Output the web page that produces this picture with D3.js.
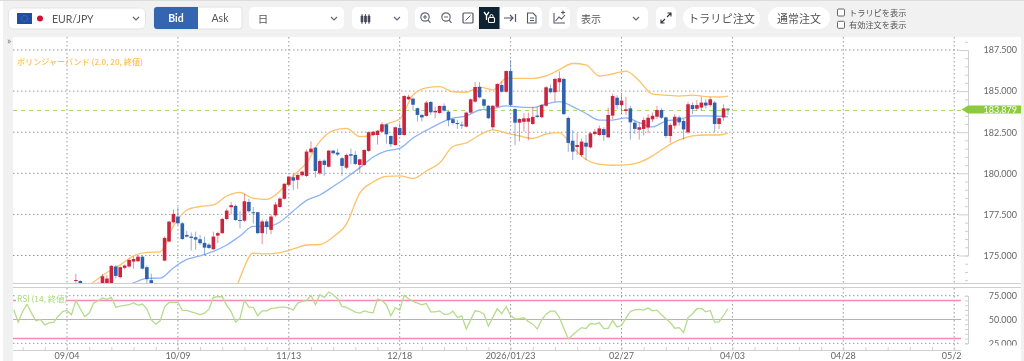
<!DOCTYPE html>
<html>
<head>
<meta charset="utf-8">
<script src="https://cdn.jsdelivr.net/npm/d3@7"></script>
<style>
  html, body { margin: 0; padding: 0; background: #fff; overflow: hidden; }
  svg { filter: blur(0.35px); }
  text { font-family: Lato, "Noto Sans CJK JP", sans-serif; }
  .jp { font-family: "Noto Sans CJK JP", sans-serif; }
</style>
</head>
<body>
<div id="chart"></div>
<script>
// Candles, bar 2 is the first one, 09/04 is bar 0
const firstBar = 2;
const opens = [173.45,173.45,172.9,172.7,172.8,172.9,173.2,173.3,173.3,174.33,173.68,174.25,174.33,174.63,174.65,174.93,174.29,173.5,173.2,172.9,
  174.69,175.85,177.02,177.37,176.96,176.25,176.15,176.11,175.99,175.77,175.66,175.38,176.21,176.36,177.22,177.94,178.02,177.16,177.12,178.26,
  177.63,177.63,176.36,177.07,176.56,177.44,177.95,178.45,179.3,179.76,179.6,179.88,179.84,181.28,181.56,180.0,180.77,180.4,181.38,181.26,
  180.92,180.34,181.16,181.12,180.51,180.51,181.36,182.33,182.33,182.53,182.98,182.27,181.72,182.76,182.33,184.5,184.54,183.96,183.55,183.49,
  184.34,183.71,183.67,184.1,183.75,183.29,183.06,182.96,182.84,183.69,184.36,185.25,184.5,184.11,182.8,184.05,185.37,184.96,186.22,183.91,
  183.08,183.13,183.14,183.0,183.51,183.41,184.11,185.17,184.93,185.54,185.74,183.37,181.98,181.6,181.11,181.86,181.58,182.39,182.33,182.69,
  182.19,183.51,184.6,184.15,183.79,183.95,183.08,182.65,182.7,182.78,183.28,183.44,183.85,183.4,182.27,182.9,183.4,183.18,182.49,184.15,
  183.93,184.0,184.3,184.15,184.3,183.0,183.4,183.93];
const highs = [173.88,173.5,173.1,173.0,173.1,173.4,173.88,173.82,174.42,174.42,174.33,174.45,174.8,174.95,175.0,175.0,174.4,173.9,173.3,173.2,
  176.15,177.1,177.8,177.95,177.05,176.5,176.4,176.45,176.25,176.15,175.75,176.45,176.45,177.3,177.85,178.25,178.1,177.7,178.75,178.45,
  177.95,177.65,177.2,177.2,177.5,178.25,178.55,179.4,179.85,180.0,179.95,180.15,181.45,181.95,181.6,180.85,180.85,181.42,181.42,181.5,
  181.0,181.2,181.5,181.35,180.9,181.45,182.55,182.58,182.62,183.1,183.02,182.3,182.85,183.05,184.75,184.78,184.6,184.0,183.6,184.4,
  184.4,184.05,184.12,184.25,183.8,183.35,183.25,183.15,183.75,184.55,185.55,185.55,184.55,184.15,184.15,185.5,185.6,186.25,186.9,183.95,
  183.35,183.65,183.69,184.05,184.05,184.2,185.3,185.4,185.8,186.2,185.8,183.45,182.63,182.45,182.1,182.33,182.5,182.7,182.9,182.8,
  184.0,184.85,184.75,184.8,184.65,184.1,183.2,183.1,183.4,183.6,183.7,184.1,183.95,183.45,183.05,183.6,183.5,183.3,184.35,184.3,
  184.45,184.65,184.5,184.65,184.4,183.4,184.2,183.95];
const lows = [173.27,172.6,172.5,172.4,172.5,172.7,173.1,173.2,173.2,173.6,173.6,174.15,174.25,174.2,174.6,174.15,173.3,173.0,172.7,172.7,
  174.65,175.8,176.95,176.85,175.95,176.1,175.3,175.35,175.65,175.0,175.4,175.35,175.75,176.3,177.15,177.5,177.1,176.65,177.05,177.6,
  176.95,176.3,175.69,176.3,176.3,177.35,177.9,178.4,179.25,178.97,179.05,179.8,179.78,181.2,179.75,179.9,179.85,180.35,181.15,181.05,
  179.85,180.25,180.55,180.5,180.0,180.45,181.3,182.25,181.75,182.48,181.8,181.6,181.68,182.3,182.28,184.45,183.85,183.15,183.15,183.45,
  183.55,183.35,183.6,183.75,182.85,182.95,182.7,182.7,182.8,183.65,184.3,184.55,183.95,183.3,182.65,184.0,184.9,184.9,184.05,181.7,
  181.95,182.53,182.0,182.95,183.35,183.35,184.05,184.85,184.35,184.95,183.55,181.3,180.81,181.1,181.0,180.81,181.5,182.3,182.25,181.98,
  182.15,183.3,183.9,183.6,183.55,182.05,182.4,182.05,182.3,182.45,183.1,183.3,183.3,182.15,181.86,182.7,182.9,182.05,182.4,183.6,
  183.8,183.8,183.95,184.05,182.5,182.7,183.2,183.55];
const closes = [173.51,172.9,172.7,172.8,172.9,173.2,173.74,173.6,174.37,173.76,174.29,174.39,174.73,174.79,174.93,174.2,173.56,173.2,172.9,173.1,
  176.07,177.06,177.53,176.96,176.0,176.15,176.07,175.97,175.75,175.48,175.46,176.15,176.36,177.22,177.73,178.06,177.16,177.1,178.3,177.69,
  177.6,176.36,177.07,176.73,177.37,178.1,178.46,179.36,179.8,179.55,179.9,180.1,181.32,181.5,180.14,180.75,180.51,181.38,181.22,181.14,
  180.45,181.12,181.07,180.57,180.85,181.42,182.5,182.53,182.59,182.98,182.37,181.77,182.8,182.33,184.7,184.66,184.17,183.55,183.4,184.3,
  183.71,183.8,184.1,183.81,183.23,183.06,183.0,182.9,183.69,184.5,185.25,184.62,184.11,183.35,184.11,185.43,184.96,186.22,184.16,183.08,
  183.3,183.34,183.35,183.43,183.43,184.16,185.23,184.93,185.74,185.78,183.6,181.85,181.32,181.72,181.93,181.62,182.43,182.53,182.73,182.33,
  183.55,184.7,184.15,184.42,183.89,183.1,182.7,182.8,183.24,183.38,183.5,183.85,183.38,182.27,182.94,183.44,183.1,182.67,184.2,183.91,
  184.15,184.3,184.12,184.5,183.0,183.35,183.95,183.879];

// Bollinger bands, read every third bar
const bandBars = d3.range(-12, 148, 3).concat(149);
const bandUpper = [173.33,172.9,172.6,172.5,172.6,172.8,173.39,173.97,174.43,174.98,175.19,175.22,176.8,177.77,177.98,178.08,178.62,178.84,178.47,178.41,
  178.93,179.84,180.63,181.94,182.59,182.73,182.23,182.33,182.98,183.3,184.76,185.19,185.27,184.96,184.93,185.25,185.07,185.77,185.78,185.77,
  185.92,186.31,186.68,186.59,185.92,186.04,186.22,185.62,184.82,184.76,184.7,184.76,184.67,184.64,184.7];
const middleStart = 8; // index into bandBars
const bandMiddle = [172.9,173.33,173.61,173.62,174.25,174.76,174.98,175.25,175.64,176.19,176.77,176.77,177.04,177.71,178.35,178.68,179.2,179.75,180.33,180.99,
  181.36,181.52,182.15,182.61,183.04,183.35,183.49,183.85,183.94,184.1,184.03,184.0,184.22,184.36,184.06,183.64,183.24,183.24,183.37,183.09,
  182.82,183.18,183.27,183.49,183.49,183.47,183.44];
const lowerStart = 15;
const bandLower = [170.5,171.1,173.64,175.14,175.1,175.18,175.4,175.64,175.67,176.13,176.92,178.8,179.47,179.81,179.84,179.69,180.14,180.63,181.63,181.85,
  182.33,182.64,182.45,182.27,182.13,182.39,182.47,181.6,180.84,180.54,180.49,180.51,180.66,181.06,181.6,182.03,182.27,182.33,182.33,182.44];

// RSI per bar, starts at the left edge of the pane
const rsiStart = -12;
const rsiValues = [60.2,47.2,58.4,66.2,56.7,48.6,50,44.4,46.5,47.2,53.2,58.4,59.5,54.9,70,61.3,53.2,56.7,67.2,69.7,
  72.5,71.1,73.2,63,64.1,64.8,65.5,67.6,64.8,66.2,61.3,49.6,45.1,48.6,63.4,67.9,67.9,67.9,59.5,59.5,
  58.1,56.7,54.9,56.7,60.9,73.2,73.9,73.9,64.8,58.4,47.2,51.4,70,63,62.7,53.9,59.1,59.1,61.6,62,
  63,63,62.3,59.8,67.2,69,69.7,75.3,65.5,76,73.2,78.9,76,71.8,63.7,62.7,60.2,57.7,56.7,59.1,57.7,
  57,71.5,70,65.5,53.9,62.3,59.8,75.3,71.8,69,67.2,65.5,66.9,58.1,58.1,59.1,55.3,55.6,58.8,52.1,
  53.9,40.1,49.6,59.1,58.4,55.6,43,52.5,61.3,56,63.4,54.2,50.7,51,51.8,47.9,45.1,40.1,49.6,55.6,
  58.8,58.8,52.1,40.8,29.6,33.8,38,41.5,40.5,45.8,45.1,46.5,40.5,40.8,48.9,42.2,43.7,51.4,58.4,60.2,
  60.6,59.8,62,59.1,59.8,54.9,50.7,46.8,40.8,41.5,36.3,52.1,56,61.3,61.6,58.1,59.5,47.2,47.5,54.2,61.3];

// Axes
const priceTicks = [175, 177.5, 180, 182.5, 185, 187.5];
const rsiTicks = [25, 50, 75];
const rsiBounds = [30, 70];
const lastPrice = 183.879;
const dateBars = [0, 25, 50, 75, 100, 125, 150, 175, 200];
const dateLabels = ['09/04', '10/09', '11/13', '12/18', '2026/01/23', '02/27', '04/03', '04/28', '05/2'];

const width = 1024, height = 361;
const left = 13, right = 961, axisX = 968;

const svg = d3.select('#chart').append('svg')
  .attr('width', width).attr('height', height)
  .style('display', 'block');

const x = d3.scaleLinear().domain([0, 25]).range([67, 177.9]);
const y = d3.scaleLinear().domain([175, 187.5]).range([255.5, 50]);
const yRsi = d3.scaleLinear().domain([25, 75]).range([343.3, 295.7]);

// Page background
svg.append('rect').attr('x', 3).attr('width', 1021).attr('height', 37).attr('fill', '#f1f1f1');
svg.append('rect').attr('x', 3).attr('width', 10).attr('height', height).attr('fill', '#f1f1f1');
svg.append('rect').attr('x', 1021).attr('width', 3).attr('height', height).attr('fill', '#f1f1f1');
svg.append('line').attr('x1', 0).attr('x2', width).attr('y1', 0.5).attr('y2', 0.5).attr('stroke', '#dcdcdc');

const defs = svg.append('defs');
defs.append('clipPath').attr('id', 'price-clip').append('rect')
  .attr('x', left).attr('y', 37).attr('width', right - left).attr('height', 246);

// Grid
const gridColor = '#9a9a9a';
const grid = svg.append('g').attr('stroke', gridColor).attr('stroke-dasharray', '1.5 2.5').attr('fill', 'none');
grid.selectAll('.gx1').data(dateBars).join('line')
  .attr('x1', d => x(d)).attr('x2', d => x(d)).attr('y1', 37).attr('y2', 283);
grid.selectAll('.gx2').data(dateBars).join('line')
  .attr('x1', d => x(d)).attr('x2', d => x(d)).attr('y1', 288).attr('y2', 350);
grid.selectAll('.gy').data(priceTicks).join('line')
  .attr('x1', left).attr('x2', right).attr('y1', d => y(d)).attr('y2', d => y(d));
grid.selectAll('.gr').data([75, 25]).join('line')
  .attr('x1', left).attr('x2', right).attr('y1', d => yRsi(d)).attr('y2', d => yRsi(d));

// Last price line
svg.append('line')
  .attr('x1', left).attr('x2', right).attr('y1', Math.round(y(lastPrice)) + 0.5).attr('y2', Math.round(y(lastPrice)) + 0.5)
  .attr('stroke', '#a6dc76').attr('stroke-dasharray', '4 4');

// Bollinger bands
const bandLine = d3.line().x(d => x(d[0])).y(d => y(d[1])).curve(d3.curveMonotoneX);
const price = svg.append('g').attr('clip-path', 'url(#price-clip)');
const bandSeries = [
  { values: bandUpper, start: 0, color: '#fdc26a' },
  { values: bandMiddle, start: middleStart, color: '#8cb4f5' },
  { values: bandLower, start: lowerStart, color: '#fdc26a' }
];
price.selectAll('.band').data(bandSeries).join('path')
  .attr('fill', 'none')
  .attr('stroke', d => d.color)
  .attr('stroke-width', 1.3)
  .attr('d', d => bandLine(d.values.map((v, i) => [bandBars[d.start + i], v])));

// Candles
const candles = opens.map((o, i) => ({ bar: firstBar + i, o, h: highs[i], l: lows[i], c: closes[i] }));
const candleColor = d => d.c >= d.o ? '#c9253f' : '#2f62ae';
price.selectAll('.wick').data(candles).join('line')
  .attr('x1', d => x(d.bar)).attr('x2', d => x(d.bar))
  .attr('y1', d => y(d.h)).attr('y2', d => y(d.l))
  .attr('stroke', candleColor).attr('stroke-opacity', 0.5);
price.selectAll('.body').data(candles).join('rect')
  .attr('x', d => x(d.bar) - 1.8).attr('width', 3.6)
  .attr('y', d => y(Math.max(d.o, d.c)))
  .attr('height', d => Math.max(1, Math.abs(y(d.o) - y(d.c))))
  .attr('fill', candleColor);

// Pane separators and axis lines
const sep = svg.append('g').attr('stroke', '#cfcfcf');
sep.append('line').attr('x1', left).attr('x2', 1021).attr('y1', 283.5).attr('y2', 283.5);
sep.append('line').attr('x1', left).attr('x2', 1021).attr('y1', 287.5).attr('y2', 287.5);
sep.append('line').attr('x1', left).attr('x2', right).attr('y1', 350.5).attr('y2', 350.5);

// Price axis
const priceAxisG = svg.append('g').attr('transform', `translate(${axisX},0)`);
priceAxisG.call(d3.axisLeft(y).tickValues(d3.range(173.5, 188.5, 0.5)).tickSize(3).tickFormat(''));
priceAxisG.selectAll('.tick').filter(d => d % 2.5 === 0).select('line').attr('x2', -9);
const priceLabels = svg.append('g').attr('transform', `translate(${axisX},0)`);
priceLabels.call(d3.axisRight(y).tickValues(priceTicks).tickSize(0).tickFormat(d3.format('.3f')));
priceLabels.select('.domain').remove();
priceLabels.selectAll('text').attr('x', 49).attr('text-anchor', 'end').attr('font-size', 9).attr('fill', '#666').attr('font-family', null);
priceAxisG.select('.domain').attr('stroke', '#cfcfcf');
priceAxisG.selectAll('line').attr('stroke', '#cfcfcf');

// Last price tag
svg.append('path')
  .attr('d', `M961.5,${y(lastPrice)}L968,${y(lastPrice) - 4}H1021V${y(lastPrice) + 4}H968Z`)
  .attr('fill', '#8ccb3c');
svg.append('text').attr('x', 1017).attr('y', y(lastPrice) + 3.2)
  .attr('text-anchor', 'end').attr('font-size', 9).attr('fill', '#fff').text(d3.format('.3f')(lastPrice));

// RSI pane
svg.append('line')
  .attr('x1', left).attr('x2', right).attr('y1', yRsi(50)).attr('y2', yRsi(50))
  .attr('stroke', '#b5b5b5');
svg.selectAll('.bound').data(rsiBounds).join('line')
  .attr('x1', left).attr('x2', right).attr('y1', d => yRsi(d)).attr('y2', d => yRsi(d))
  .attr('stroke', '#ff86bb').attr('stroke-width', 1.5);
svg.append('path')
  .attr('fill', 'none').attr('stroke', '#b4dc8c').attr('stroke-width', 1.3)
  .attr('d', d3.line().x((d, i) => x(rsiStart + i)).y(d => yRsi(d))(rsiValues));

const rsiAxisG = svg.append('g').attr('transform', `translate(${axisX},0)`);
rsiAxisG.call(d3.axisLeft(yRsi).tickValues(d3.range(25, 80, 5)).tickSize(3).tickFormat(''));
rsiAxisG.select('.domain').attr('stroke', '#cfcfcf');
rsiAxisG.selectAll('line').attr('stroke', '#cfcfcf');
const rsiLabels = svg.append('g').attr('transform', `translate(${axisX},0)`);
rsiLabels.call(d3.axisRight(yRsi).tickValues(rsiTicks).tickSize(0).tickFormat(d3.format('.3f')));
rsiLabels.select('.domain').remove();
rsiLabels.selectAll('text').attr('x', 49).attr('text-anchor', 'end').attr('font-size', 9).attr('fill', '#666').attr('font-family', null);
svg.append('rect').attr('x', axisX + 1).attr('y', 345.5).attr('width', 52).attr('height', 10).attr('fill', '#fff');

// Date axis
const dateAxisG = svg.append('g').attr('transform', 'translate(0,350)');
dateAxisG.call(d3.axisTop(x).tickValues(d3.range(-10, 201, 5)).tickSize(3).tickFormat(''));
dateAxisG.select('.domain').remove();
dateAxisG.selectAll('line').attr('stroke', '#cfcfcf');
svg.selectAll('.date').data(dateLabels).join('text')
  .attr('x', (d, i) => d === '05/2' ? x(dateBars[i]) - 2.5 : x(dateBars[i]))
  .attr('y', 359)
  .attr('text-anchor', 'middle').attr('font-size', 9).attr('fill', '#666')
  .text(d => d);

// Indicator legends
svg.append('text').attr('class', 'jp').attr('x', 17).attr('y', 64.5)
  .attr('font-size', 8.1).attr('font-weight', 500).attr('fill', '#fdbf55')
  .text('ボリンジャーバンド (2.0, 20, 終値)');
svg.append('rect').attr('x', 16).attr('y', 293).attr('width', 50).attr('height', 11).attr('fill', '#fff');
svg.append('text').attr('class', 'jp').attr('x', 17).attr('y', 301.5)
  .attr('font-size', 8.4).attr('fill', '#a8d97a')
  .text('RSI (14, 終値)');
svg.append('text').attr('x', 7).attr('y', 43.5).attr('font-size', 10).attr('fill', '#777').text('»');

// Toolbar
const bar = svg.append('g');
const pills = [
  [8, 8, 138, 21], [249, 7, 95, 22], [352, 7, 56, 22], [415, 7, 63, 22], [500, 7, 42, 22],
  [549, 7, 21, 22], [577, 7, 71, 22], [656, 7, 20, 22]
];
bar.selectAll('.pill').data(pills).join('rect')
  .attr('x', d => d[0]).attr('y', d => d[1]).attr('width', d => d[2]).attr('height', d => d[3])
  .attr('rx', 5).attr('fill', '#fff');
bar.append('rect').attr('x', 8.5).attr('y', 8).attr('width', 137).attr('height', 21).attr('rx', 5)
  .attr('fill', 'none').attr('stroke', '#e4e4e4');

// Round order buttons
bar.append('rect').attr('x', 683).attr('y', 7).attr('width', 77).attr('height', 22).attr('rx', 11).attr('fill', '#fff');
bar.append('rect').attr('x', 768).attr('y', 7).attr('width', 62).attr('height', 22).attr('rx', 11).attr('fill', '#fff');

// Pair selector
bar.append('rect').attr('x', 17).attr('y', 13).attr('width', 15).attr('height', 11).attr('fill', '#1f4ea6');
bar.append('circle').attr('cx', 24.5).attr('cy', 18.5).attr('r', 3).attr('fill', 'none').attr('stroke', '#8a9a7a').attr('stroke-width', 0.6).attr('stroke-dasharray', '1 1');
bar.append('circle').attr('cx', 40).attr('cy', 18.5).attr('r', 3).attr('fill', '#cf1233');
bar.append('text').attr('x', 52).attr('y', 22.5).attr('font-size', 10.5).attr('fill', '#555').text('EUR/JPY');

// Bid / Ask
bar.append('rect').attr('x', 154).attr('y', 7).attr('width', 88).attr('height', 22).attr('rx', 3).attr('fill', '#fff').attr('stroke', '#e2e2e2');
bar.append('path').attr('d', 'M198,7H157a3,3 0 0 0 -3,3V26a3,3 0 0 0 3,3H198Z').attr('fill', '#3465b0');
bar.append('text').attr('x', 176).attr('y', 22).attr('text-anchor', 'middle').attr('font-size', 10.5).attr('font-weight', 700).attr('fill', '#fff').text('Bid');
bar.append('text').attr('x', 220).attr('y', 22).attr('text-anchor', 'middle').attr('font-size', 10.5).attr('fill', '#555').text('Ask');

// Dropdown labels and chevrons
bar.append('text').attr('class', 'jp').attr('x', 263).attr('y', 22.5).attr('text-anchor', 'middle').attr('font-size', 10.5).attr('fill', '#555').text('日');
bar.append('text').attr('class', 'jp').attr('x', 591).attr('y', 22.5).attr('text-anchor', 'middle').attr('font-size', 10).attr('fill', '#555').text('表示');
bar.selectAll('.chev').data([136, 334, 397, 636]).join('path')
  .attr('d', d => `M${d - 3},17L${d},20L${d + 3},17`)
  .attr('fill', 'none').attr('stroke', '#667').attr('stroke-width', 1.2);

// Candle type icon
bar.selectAll('.ci').data([362, 365.5, 369]).join('path')
  .attr('d', d => `M${d},14V24M${d - 0.9},16H${d + 0.9}V22H${d - 0.9}Z`)
  .attr('stroke', '#445').attr('fill', '#445').attr('stroke-width', 0.8);

// Tool icons
const iconStroke = '#667';
[425, 446].forEach((cx, i) => {
  bar.append('circle').attr('cx', cx).attr('cy', 17).attr('r', 4.2).attr('fill', 'none').attr('stroke', iconStroke).attr('stroke-width', 1.2);
  bar.append('path').attr('d', `M${cx + 3},20L${cx + 5.5},22.8M${cx - 2},17H${cx + 2}` + (i === 0 ? `M${cx},15V19` : ''))
    .attr('fill', 'none').attr('stroke', iconStroke).attr('stroke-width', 1.2);
});
bar.append('rect').attr('x', 463).attr('y', 13).attr('width', 10).attr('height', 10).attr('rx', 1).attr('fill', 'none').attr('stroke', '#556').attr('stroke-width', 1.2);
bar.append('path').attr('d', 'M465.5,20.5L470.5,15.5').attr('stroke', '#556');
bar.append('rect').attr('x', 479).attr('y', 7).attr('width', 20.5).attr('height', 22).attr('fill', '#0d2233');
bar.append('path').attr('d', 'M484,12L486.5,15.5L489,12M486.5,15.5V20').attr('fill', 'none').attr('stroke', '#fff').attr('stroke-width', 1.3);
bar.append('rect').attr('x', 488.5).attr('y', 17.5).attr('width', 6).attr('height', 5).attr('rx', 1).attr('fill', 'none').attr('stroke', '#fff').attr('stroke-width', 1.1);
bar.append('path').attr('d', 'M490,17.5V16a1.5,1.5 0 0 1 3,0V17.5').attr('fill', 'none').attr('stroke', '#fff');
bar.append('path').attr('d', 'M504,18H513M510,15L513,18L510,21M515.5,14V22').attr('fill', 'none').attr('stroke', '#556').attr('stroke-width', 1.2);
bar.append('path').attr('d', 'M527.5,13H533L536,16V23H527.5ZM530,18H534M530,20.5H534').attr('fill', 'none').attr('stroke', '#556').attr('stroke-width', 1.1);
bar.append('path').attr('d', 'M554,13V23H565M555.5,21L559,17L561.5,19L565,15M561,12.5H565M563,10.5V14.5').attr('fill', 'none').attr('stroke', '#556').attr('stroke-width', 1.1);
bar.append('path').attr('d', 'M661,23L665,19M667,17L671,13M667.5,13H671V16.5M661,19.5V23H664.5').attr('fill', 'none').attr('stroke', '#334').attr('stroke-width', 1.1);

// Order buttons and check boxes
bar.append('text').attr('class', 'jp').attr('x', 721.5).attr('y', 22.8).attr('text-anchor', 'middle').attr('font-size', 11.2).attr('fill', '#555').text('トラリピ注文');
bar.append('text').attr('class', 'jp').attr('x', 799).attr('y', 22.8).attr('text-anchor', 'middle').attr('font-size', 11).attr('fill', '#555').text('通常注文');
const checks = [['トラリピを表示', 12.5], ['有効注文を表示', 24.8]];
bar.selectAll('.cb').data(checks).join('rect')
  .attr('x', 837.5).attr('y', d => d[1] - 3.5).attr('width', 7).attr('height', 7).attr('rx', 1)
  .attr('fill', '#fff').attr('stroke', '#666');
bar.selectAll('.cl').data(checks).join('text')
  .attr('class', 'jp').attr('x', 849).attr('y', d => d[1] + 3)
  .attr('font-size', 8.2).attr('fill', '#555').text(d => d[0]);
</script>
</body>
</html>
